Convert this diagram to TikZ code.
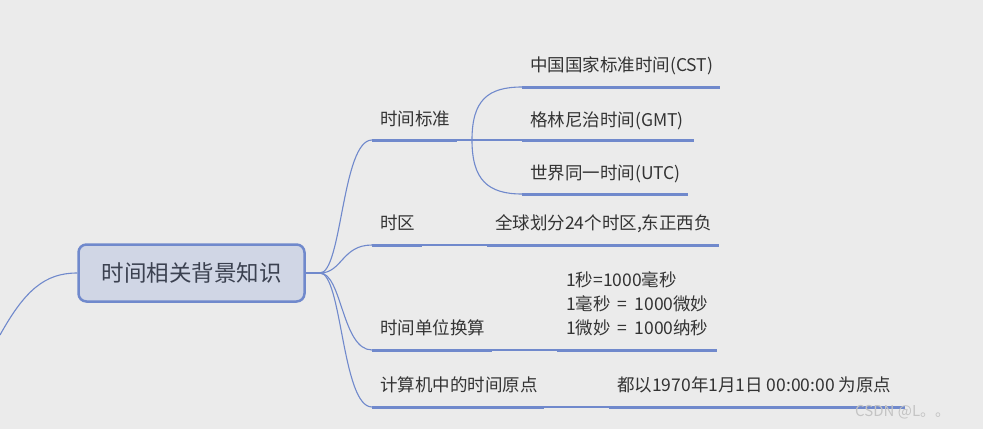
\documentclass[tikz,border=0pt]{standalone}
\usepackage{fontspec}
\setmainfont{Noto Sans CJK SC}
\definecolor{bg}{HTML}{EBEBEB}
\definecolor{ln}{HTML}{7089CC}
\definecolor{rootfill}{HTML}{D0D6E5}
\definecolor{roottxt}{HTML}{3B4150}
\definecolor{txt}{HTML}{333333}
\definecolor{wm}{HTML}{C4C4C4}
\newcommand{\eqgap}{\hspace{0.4em}}
\begin{document}
\begin{tikzpicture}[x=1pt,y=-1pt,
  thinline/.style={draw=ln, line width=1.1pt},
  thickline/.style={draw=ln, line width=3pt},
  lbl/.style={anchor=base west, inner sep=0pt, text=txt, font=\fontsize{17.5}{21}\selectfont},
  rootbox/.style={draw=ln, line width=2.5pt, fill=rootfill, rounded corners=8pt,
    minimum width=226pt, minimum height=57pt, text=roottxt, font=\fontsize{22.5}{27}\selectfont},
]
\fill[bg] (0,0) rectangle (983,429);
\useasboundingbox (0,0) rectangle (983,429);

% root
\node[rootbox] (root) at (191.5,273) {时间相关背景知识};
\coordinate (lin) at (0,335);
\draw[thinline] (lin) .. controls (25,290) and (45,273) .. (root.west);
\coordinate (hub) at (320,273);
\draw[thinline] (root.east) -- (hub);

% branch 1
\coordinate (b1s) at (372,140); \coordinate (b1e) at (457,140); \coordinate (s1) at (472,140);
\draw[thinline] (hub) .. controls (342,273) and (342,140) .. (b1s);
\draw[thickline] (b1s) -- (b1e);
\draw[thinline] (b1e) -- (s1);
\node[lbl] (b1) at (380,125.5) {时间标准};
\coordinate (c1as) at (522,87); \coordinate (c1ae) at (720,87);
\coordinate (c1bs) at (522,140); \coordinate (c1be) at (694,140);
\coordinate (c1cs) at (522,194); \coordinate (c1ce) at (688,194);
\draw[thinline] (s1) .. controls (472,100) and (488,87) .. (c1as);
\draw[thinline] (s1) -- (c1bs);
\draw[thinline] (s1) .. controls (472,180) and (488,194) .. (c1cs);
\draw[thickline] (c1as) -- (c1ae);
\draw[thickline] (c1bs) -- (c1be);
\draw[thickline] (c1cs) -- (c1ce);
\node[lbl] (c1a) at (530,71.5) {中国国家标准时间(CST)};
\node[lbl] (c1b) at (530,126.5) {格林尼治时间(GMT)};
\node[lbl] (c1c) at (530,179.5) {世界同一时间(UTC)};

% branch 2
\coordinate (b2s) at (372,245); \coordinate (b2e) at (422,245);
\coordinate (c2s) at (487,245); \coordinate (c2e) at (719,245);
\draw[thinline] (hub) .. controls (342,273) and (342,245) .. (b2s);
\draw[thickline] (b2s) -- (b2e);
\draw[thinline] (b2e) -- (c2s);
\draw[thickline] (c2s) -- (c2e);
\node[lbl] (b2) at (380,229.5) {时区};
\node[lbl] (c2) at (495,229.5) {全球划分24个时区,东正西负};

% branch 3
\coordinate (b3s) at (372,350); \coordinate (b3e) at (492,350);
\coordinate (c3s) at (557,350); \coordinate (c3e) at (717,350);
\draw[thinline] (hub) .. controls (342,273) and (342,350) .. (b3s);
\draw[thickline] (b3s) -- (b3e);
\draw[thinline] (b3e) -- (c3s);
\draw[thickline] (c3s) -- (c3e);
\node[lbl] (b3) at (380,334.5) {时间单位换算};
\node[lbl] (c3a) at (566,286.5) {1秒=1000毫秒};
\node[lbl] (c3b) at (566,310.5) {1毫秒\eqgap=\eqgap1000微妙};
\node[lbl] (c3c) at (566,334.5) {1微妙\eqgap=\eqgap1000纳秒};

% branch 4
\coordinate (b4s) at (372,407); \coordinate (b4e) at (544,407);
\coordinate (c4s) at (609,407); \coordinate (c4e) at (905,407);
\draw[thinline] (hub) .. controls (342,273) and (342,407) .. (b4s);
\draw[thickline] (b4s) -- (b4e);
\draw[thinline] (b4e) -- (c4s);
\draw[thickline] (c4s) -- (c4e);
\node[lbl] (b4) at (380,391.5) {计算机中的时间原点};
\node[lbl] (c4) at (617,391.5) {都以1970年1月1日 00:00:00 为原点};

% watermark
\node[anchor=base west, inner sep=0pt, text=wm, font=\fontsize{15}{17}\selectfont] (wmk) at (855,416) {CSDN @L。。};
\end{tikzpicture}
\end{document}
